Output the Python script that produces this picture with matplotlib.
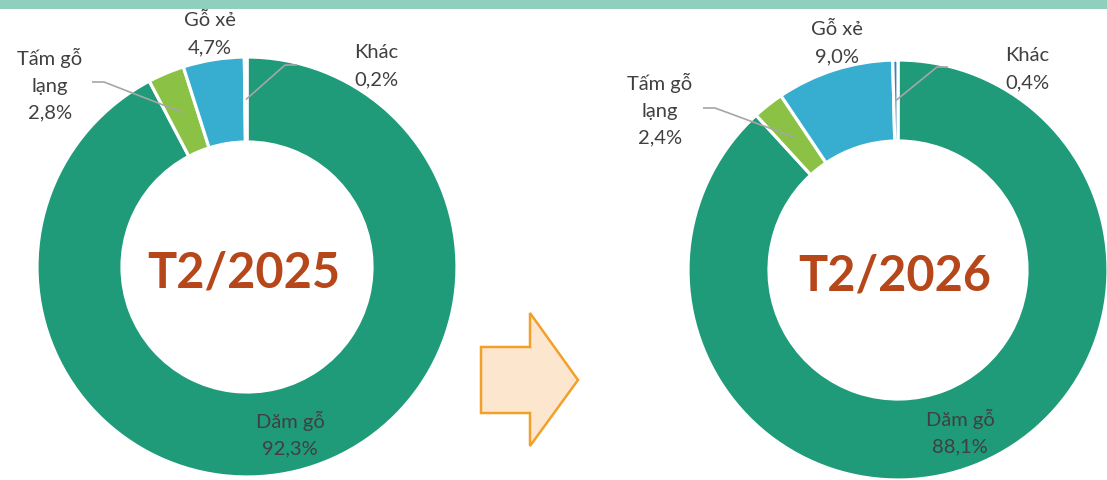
import matplotlib.pyplot as plt
import matplotlib.patches as mpatches
import numpy as np

# %%
# data
categories = ["Dăm gỗ", "Tấm gỗ\nlạng", "Gỗ xẻ", "Khác"]
share_2025 = [92.3, 2.8, 4.7, 0.2]
share_2026 = [88.1, 2.4, 9.0, 0.4]
titles = ["T2/2025", "T2/2026"]

colors = ["#1F9B79", "#8BC145", "#37AECF", "#3C7FC2"]
txt_color = "#404040"
plt.rcParams["font.family"] = ["Lato", "DejaVu Sans"]

W, H = 1107, 481
fig = plt.figure(figsize=(W / 100, H / 100), dpi=100)
ax = fig.add_axes([0, 0, 1, 1])


def fmt(v):
    return f"{v:.1f}%".replace(".", ",")


def donut(vals, title, cx, cy, r, rin, label_pos, leader_pts):
    # cy in pixel coords from top
    y0 = H - cy
    ax.pie(vals, colors=colors, startangle=90, counterclock=False,
           center=(cx, y0), radius=r,
           wedgeprops=dict(width=r - rin, edgecolor="white", linewidth=2.3))
    ax.text(cx - 3, y0 - 5, title, ha="center", va="center", fontsize=35,
            fontweight="bold", color="#B5471B")
    # mid angles of each wedge (clockwise from top)
    cum = np.cumsum([0] + list(vals))
    tot = cum[-1]
    for i, name in enumerate(categories):
        lx, ly = label_pos[i]
        ax.text(lx, H - ly, f"{name}\n{fmt(vals[i])}", ha="center", va="center",
                fontsize=14.5, color=txt_color, linespacing=1.7)
        if i in leader_pts:
            (sx, sy), (kx, ky) = leader_pts[i]
            mid = (cum[i] + cum[i + 1]) / 2 / tot * 2 * np.pi
            rm = (r + rin) / 2
            ex = cx + rm * np.sin(mid)
            ey = y0 + rm * np.cos(mid)
            ax.plot([sx, kx, ex], [H - sy, H - ky, ey], color="#A6A6A6", lw=1.2,
                    solid_capstyle="butt")


donut(share_2025, titles[0], 247, 268, 210, 125,
      [(290, 434), (50, 85), (210, 34), (376, 66)],
      {1: ((92, 83), (104, 83)), 3: ((297, 66), (285, 66))})
donut(share_2026, titles[1], 898, 271, 210, 129,
      [(960, 432), (660, 110), (837, 43), (1027, 69)],
      {1: ((703, 109), (715, 109)), 3: ((948, 68), (937, 68))})

# top band
ax.add_patch(mpatches.Rectangle((0, H - 10), W, 10, color="#8ECFBE", lw=0))

# arrow
arrow = [(481, 348), (530, 348), (530, 314), (578, 381), (530, 447), (530, 414), (481, 414)]
ax.add_patch(mpatches.Polygon([(x, H - y) for x, y in arrow], closed=True,
                              facecolor="#FCE6CE", edgecolor="#F2A02A", lw=1.8))

ax.set_xlim(0, W)
ax.set_ylim(0, H)
ax.set_aspect("auto")
ax.axis("off")

fig.savefig("out.png", dpi=100)
